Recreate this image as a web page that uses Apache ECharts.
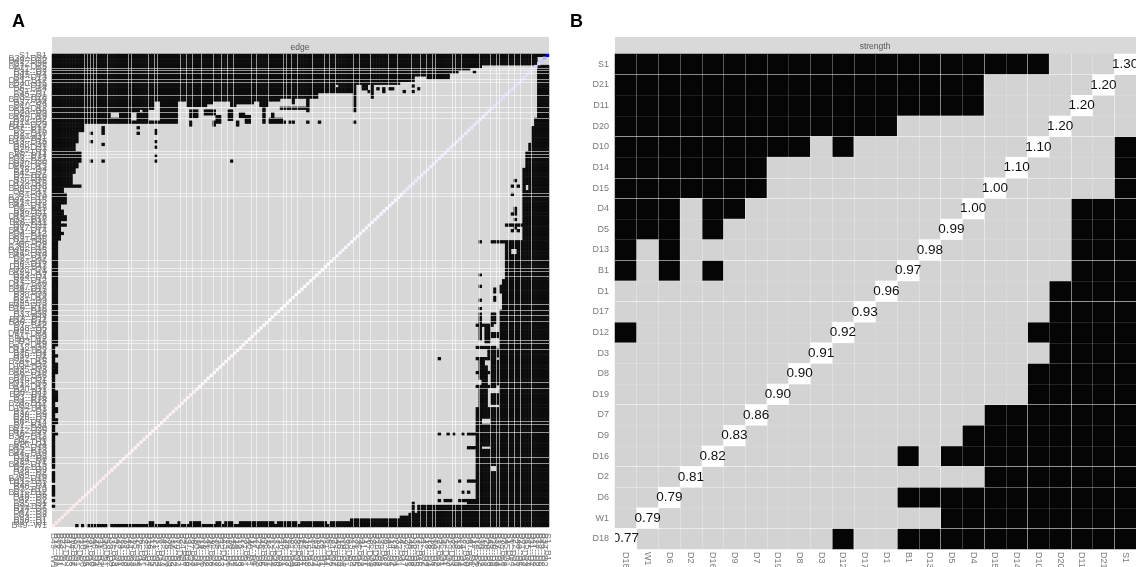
<!DOCTYPE html>
<html><head><meta charset="utf-8">
<style>html,body{margin:0;padding:0;background:#fff}#c{width:1136px;height:567px}</style>
<script src="https://cdn.jsdelivr.net/npm/echarts@6/dist/echarts.min.js"></script></head>
<body><div id="c"></div>
<script>
// ---------- Panel B data ----------
const bRows = ['S1','D21','D11','D20','D10','D14','D15','D4','D5','D13','B1','D1','D17','D12','D3','D8','D19','D7','D9','D16','D2','D6','W1','D18'];
const bCols = ['D18','W1','D6','D2','D16','D9','D7','D19','D8','D3','D12','D17','D1','B1','D13','D5','D4','D15','D14','D10','D20','D11','D21','S1'];
const bStrength = [1.30,1.20,1.20,1.20,1.10,1.10,1.00,1.00,0.99,0.98,0.97,0.96,0.93,0.92,0.91,0.90,0.90,0.86,0.83,0.82,0.81,0.79,0.79,0.77];
// significant cells, per row of bRows: lists of [firstCol,lastCol]
const bSignificant = [
 [[0,19]],[[0,16]],[[0,16]],[[0,12]],[[0,8],[10,10],[23,23]],[[0,6],[23,23]],[[0,6],[23,23]],
 [[0,2],[4,5],[21,23]],[[0,2],[4,4],[21,23]],[[0,0],[2,2],[21,23]],[[0,0],[2,2],[4,4],[21,23]],
 [[20,23]],[[20,23]],[[0,0],[19,23]],[[20,23]],[[19,23]],[[19,23]],[[17,23]],[[16,23]],
 [[13,13],[15,23]],[[17,23]],[[13,23]],[[15,23]],[[10,10],[13,23]]
];
// ---------- Panel A data ----------
const aEdges = [
"S1--B1","B34--D26","B49--D22","B12--D9","B27--D25","D11--D2","B31--D7","D15--B4","B8--D13","D21--B17",
"B40--D5","B22--D18","B6--D24","S1--D7","B45--D1","D3--B28","B19--D16","B37--D4","D10--B9","B25--D12",
"B43--D8","D20--B3","B16--D19","B30--D2","D14--D6","B11--D23","B47--D17","D5--B35","B2--D10","B24--D1",
"D18--B41","B13--D15","B38--D9","D7--D21","B29--D3","B5--D11","B46--D14","D2--B21","B33--D20","B10--D6",
"D26--D13","B18--D4","B42--D7","D1--B26","B7--D16","B36--D5","D12--B15","B48--D8","B20--D19","D9--D17",
"B4--D3","B32--D10","D24--D15","B14--D2","B44--D12","D6--B23","B9--D21","B39--D1","D16--B28","B3--D18",
"B26--D11","D8--D22","B17--D7","B41--D14","D4--B12","B35--D20","B21--D5","D13--B46","B6--D9","B30--D16",
"D19--D25","B15--D3","B49--D10","D2--B37","B24--D6","B8--D17","D11--B43","B28--D1","B12--D19","D23--D7",
"B34--D4","B1--D12","D15--B20","B47--D2","B19--D13","D5--B31","B38--D8","B2--D14","D21--D9","B25--D3",
"B42--D18","D10--B16","B7--D20","B33--D6","D1--B44","B13--D11","B36--D16","D7--B22","B48--D5","B29--D2",
"D17--D24","B11--D9","B40--D12","D3--B5","B27--D19","B18--D8","D14--B32","B45--D4","B10--D1","D22--D6",
"B23--D15","B4--D7","D12--B39","B35--D3","B16--D10","D9--B26","B46--D2","B31--D21","D18--D5","B14--D13",
"B20--D1","D8--B43","B37--D11","B3--D16","D4--B28","B24--D17","B9--D6","D19--B41","B17--D2","B30--D9",
"D25--D3","B49--D7","B6--D14","D1--B34","B21--D20","B12--D5","D16--B47","B38--D12","B2--D8","D6--D11",
"B26--D4","B15--D18","D2--B33","B44--D10","B19--D3","D21--B8","B29--D1","B42--D15","D7--B13","B36--D9",
"D13--D2","B5--D6","B40--D19","D11--B25","B22--D1","B48--D4","D3--B10","B31--D12","B18--D5","D10--D8",
"B7--D2","B35--D1","D9--B27","B14--D6","B47--D3","B4--D2","B23--D7","B36--D1","B17--D1","B49--W1"
];
// black cell blocks: [firstRow,lastRow,firstCol,lastCol]
const aBlackLeft = [[25,27,0,10],[28,31,0,8],[32,34,0,7],[35,38,0,9],[39,39,0,7],[40,42,0,7],[43,46,0,6],[47,47,0,9],[47,47,0,5],
 [48,49,0,3],[50,53,0,4],[54,55,0,2],[56,57,0,3],[58,59,0,4],[60,60,0,2],[61,61,0,4],[62,63,0,2],[64,64,0,3],[65,66,0,2],[67,104,0,1],
 [105,107,0,0],[108,108,0,1],[109,110,0,0],[111,114,0,1],[115,120,0,0],[121,124,0,1],[125,126,0,0],[127,127,0,1],[128,128,0,1],
 [129,130,0,0],[131,132,0,1],[133,135,0,0],[136,136,0,1],[137,148,0,0],[150,153,0,0],[155,158,0,0],[160,160,0,0],[162,162,0,0]];
const aBlackTop = [[0,24,0,42],[0,16,43,45],[0,18,46,52],[0,17,53,54],[0,16,55,60],[0,18,61,62],[0,17,63,68],[0,16,69,70],[0,18,71,73],
 [0,16,74,77],[0,15,78,81],[0,17,82,82],[0,15,83,86],[0,20,87,87],[0,15,88,90],[0,13,91,96],[0,10,97,97],[0,13,98,102],[0,20,103,103],
 [0,10,104,108],[0,15,109,109],[0,10,110,118],[0,9,119,123],[0,7,124,127],[0,8,128,135],[0,6,136,138],[0,5,139,142],[0,4,143,146],[0,3,147,165],[0,0,166,168]];
const aIslands = [[20,22,47,49],[20,21,52,55],[22,24,56,57],[20,23,60,61],[21,22,64,65],[22,24,66,67],[19,24,72,72],[23,24,74,78],
 [24,25,47,47],[24,25,55,55],[24,25,63,63],[23,23,78,78],[24,24,81,81],[21,22,75,75],[19,19,80,83],
 [19,19,78,80],[19,19,81,82],[19,19,84,85],[19,19,86,87],[24,24,79,79],[24,24,82,82],[24,24,87,87],[24,24,91,91],[24,24,103,103],
 [12,13,97,97],[11,12,106,107],[13,13,108,108],[12,12,111,111],[12,13,113,113],[12,12,115,116],[13,13,120,120],[11,11,123,123],[13,13,123,123],[12,12,125,125],[6,6,144,144]];
const aDots = [[28,13],[31,13],[26,17],[27,17],[28,17],[32,17],[26,29],[28,29],[27,35],[28,35],[31,35],[33,35],[36,35],[38,35],[38,13],[38,17],[38,61],[39,8],[40,8],
 [45,158],[47,157],[47,159],[50,157],[55,158],[56,158],[57,158],[57,157],[59,158],[63,157],[63,159],[62,158],
 [67,146],[67,150],[67,151],[67,152],[79,146],[83,146],[88,146],[91,146],[84,151],[85,151],[87,151],[88,151],[109,132],
 [136,132],[136,135],[136,137],[136,140],[136,142],[136,143],[136,144],[141,142],[141,143],[141,144],
 [153,132],[153,139],[153,142],[153,143],[153,144],[157,132],[157,140],[157,142],[160,132],[160,134],[160,135],[160,136],[160,139],[160,140],[160,141]];
const aBlackRight = [[4,22,166,169],[23,25,165,169],[26,31,164,169],[32,34,163,169],[35,40,162,169],[41,66,161,169],[61,61,155,160],[67,67,153,169],
 [68,68,155,169],[69,72,155,169],[73,80,155,169],[81,82,154,169],[83,85,153,169],[86,91,154,169],[92,126,153,169],
 [93,102,146,146],[97,97,145,150],[100,101,150,152],[93,96,150,151],[98,103,148,149],[105,105,145,151],[106,108,149,152],[109,109,145,151],[110,111,146,147],[112,116,146,148],[114,114,145,149],[110,118,150,152],[117,118,147,148],[119,119,145,151],[120,126,146,148],[122,125,150,152],
 [127,159,145,169],[160,161,142,169],[162,164,130,169],[162,164,125,129],[165,165,122,169],[161,164,123,123],[166,167,119,169],[167,167,102,118],[168,168,102,169]];
const aBlackBottom = [[169,169,8,8],[169,169,10,10],[169,169,12,18],[169,169,20,169],[168,168,33,34],[168,168,39,39],[168,168,43,43],[168,168,47,50],
 [168,168,56,57],[168,168,59,61],[168,168,64,71],[168,168,72,75],[168,168,77,83],[168,168,85,93],[168,168,95,102],[167,167,102,102]];
const aHoles = [[21,22,20,22],[21,23,27,28],[20,20,30,30],[20,23,33,34],[17,23,35,36],[70,71,157,158],[131,132,147,149],[141,141,147,149],[148,149,150,151],[47,48,162,162]];
// diagonal values, bottom-left to top-right: run lengths and values
const aDiagRuns = [20,30,20,25,25,30,14,3,1,1,1];
const aDiagVals = [-0.09,-0.06,-0.03,0.01,0.04,0.08,0.12,0.16,0.2,0.3,1];
// bright residual grid lines of panel A (band boundaries)
const aVLines = [11,12,13,14,15,19,26,27,33,35,36,44,46,48,51,55,58,60,62,68,70,74,79,80,82,84,89,93,95,97,103,105,109,115,118,123,126,128,130,131,137,138,140,146,150,152,153,156,158,160,164];
const aHLines = [5,6,7,9,10,15,19,21,23,35,36,37,50,51,74,77,78,80,90,92,94,96,103,104,106,118,120,132,133,136,145,147,162,164];
// ---------- styles ----------
const bVAlpha = [0,.3,.3,.3,.3,.3,.3,.3,.15,.3,.3,.3,.15,.3,.3,.5,.2,.5,.2,.5,.2,.5,.2,.5,0];
const bHAlpha = [0,.5,.1,.1,.55,.12,.5,.55,.12,.12,.55,.12,.55,.12,.12,.18,.12,.5,.12,.12,.55,.35,.12,.55,0];
const GREY='#D3D3D3', BLACK='#050505', AGREY='#D7D7D7', ABLACK='#0C0C0C';
const FONT='"Liberation Sans",Arial,sans-serif';

const n = aEdges.length;
const aKeys = new Set();
[aBlackLeft,aBlackTop,aIslands,aBlackRight,aBlackBottom].forEach(list=>list.forEach(([r1,r2,c1,c2])=>{
  for(let r=r1;r<=r2;r++)for(let c=c1;c<=c2;c++)aKeys.add(r+'_'+c);
}));
aDots.forEach(([r,c])=>aKeys.add(r+'_'+c));
aHoles.forEach(([r1,r2,c1,c2])=>{for(let r=r1;r<=r2;r++)for(let c=c1;c<=c2;c++)aKeys.delete(r+'_'+c);});
const aBlackData=[]; aKeys.forEach(k=>{const [r,c]=k.split('_').map(Number); if(r+c!==n-1) aBlackData.push([c,r,1]);});
const aDiagData=[]; let di=0;
aDiagRuns.forEach((len,i)=>{for(let j=0;j<len;j++){aDiagData.push([di,n-1-di,aDiagVals[i]]);di++;}});
const aCols = aEdges.slice().reverse();

const bBlackData=[], bGreyData=[], bDiagData=[];
bRows.forEach((_,r)=>{
  const col=bCols.length-1-r;
  bCols.forEach((_,c)=>{
    if(c===col){bDiagData.push([c,r,bStrength[r]]);return;}
    (bSignificant[r].some(([a,b])=>c>=a&&c<=b)?bBlackData:bGreyData).push([c,r,1]);
  });
});
const lineColors=(list,count,col)=>{const o=[];for(let i=0;i<=count;i++)o.push(list.includes(i)?col:'rgba(255,255,255,0)');return o;};
const axisBase=(cats,extra)=>Object.assign({type:'category',data:cats,z:5,axisLine:{show:false},axisTick:{show:false}},extra);
const lab=(o)=>Object.assign({interval:0,color:'#7a7a7a',fontFamily:FONT,fontSize:9},o);

const chart=echarts.init(document.getElementById('c'),null,{renderer:'canvas'});
chart.setOption({
  animation:false,
  title:[
    {text:'A',left:12,top:13,padding:0,textStyle:{fontSize:18,fontWeight:'bold',color:'#000',fontFamily:FONT}},
    {text:'B',left:570,top:13,padding:0,textStyle:{fontSize:18,fontWeight:'bold',color:'#000',fontFamily:FONT}},
    {text:'edge',left:300,top:43,padding:0,textAlign:'center',textStyle:{fontSize:8.5,fontWeight:'normal',color:'#555',fontFamily:FONT}},
    {text:'strength',left:875,top:42,padding:0,textAlign:'center',textStyle:{fontSize:8.5,fontWeight:'normal',color:'#555',fontFamily:FONT}}
  ],
  graphic:[
    {type:'rect',z:-1,shape:{x:52,y:37,width:497,height:17},style:{fill:'#D9D9D9'}},
    {type:'rect',z:-1,shape:{x:615,y:37,width:521,height:17},style:{fill:'#D9D9D9'}}
  ],
  grid:[
    {left:52,top:54,width:497,height:473,show:true,backgroundColor:AGREY,borderWidth:0,outerBoundsMode:'none',containLabel:false},
    {left:615,top:54,width:521,height:495,show:true,backgroundColor:GREY,borderWidth:0,outerBoundsMode:'none',containLabel:false}
  ],
  xAxis:[
    axisBase(aCols,{gridIndex:0,position:'bottom',axisLabel:lab({rotate:-90,margin:6}),
      splitLine:{show:true,interval:0,lineStyle:{width:1,color:lineColors(aVLines,n,'rgba(255,255,255,0.55)')}}}),
    axisBase(bCols,{gridIndex:1,position:'bottom',axisLabel:lab({rotate:-90,margin:3}),
      splitLine:{show:true,interval:0,lineStyle:{width:1,color:bVAlpha.map(a=>'rgba(255,255,255,'+a+')')}}})
  ],
  yAxis:[
    axisBase(aEdges,{gridIndex:0,inverse:true,axisLabel:lab({margin:5}),
      splitLine:{show:true,interval:0,lineStyle:{width:1,color:lineColors(aHLines,n,'rgba(255,255,255,0.55)')}}}),
    axisBase(bRows,{gridIndex:1,inverse:true,axisLabel:lab({margin:6}),
      splitLine:{show:true,interval:0,lineStyle:{width:1,color:bHAlpha.map(a=>'rgba(255,255,255,'+a+')')}}})
  ],
  visualMap:[{type:'continuous',show:false,seriesIndex:1,dimension:2,min:-1,max:1,inRange:{color:['#ff0000','#ffffff','#0000ff']}}],
  series:[
    {type:'heatmap',name:'edge',xAxisIndex:0,yAxisIndex:0,data:aBlackData,itemStyle:{color:ABLACK},progressive:0,z:2,emphasis:{disabled:true}},
    {type:'heatmap',name:'edge diagonal',xAxisIndex:0,yAxisIndex:0,data:aDiagData,progressive:0,z:3,emphasis:{disabled:true}},
    {type:'heatmap',name:'strength sig',xAxisIndex:1,yAxisIndex:1,data:bBlackData,itemStyle:{color:BLACK},progressive:0,z:2,emphasis:{disabled:true}},
    {type:'heatmap',name:'strength ns',xAxisIndex:1,yAxisIndex:1,data:bGreyData,itemStyle:{color:GREY},progressive:0,z:2,emphasis:{disabled:true}},
    {type:'heatmap',name:'strength diagonal',xAxisIndex:1,yAxisIndex:1,data:bDiagData,itemStyle:{color:'#fff'},progressive:0,z:6,emphasis:{disabled:true}},
    {type:'custom',name:'strength labels',xAxisIndex:1,yAxisIndex:1,clip:true,z:7,data:bDiagData,silent:true,
      encode:{x:0,y:1},
      renderItem:(p,api)=>{
        const pt=api.coord([api.value(0),api.value(1)]);
        return {type:'text',x:pt[0],y:pt[1],style:{text:api.value(2).toFixed(2),fill:'#111',font:'13.5px '+FONT,align:'center',verticalAlign:'middle'}};
      }}
  ]
});
</script></body></html>
